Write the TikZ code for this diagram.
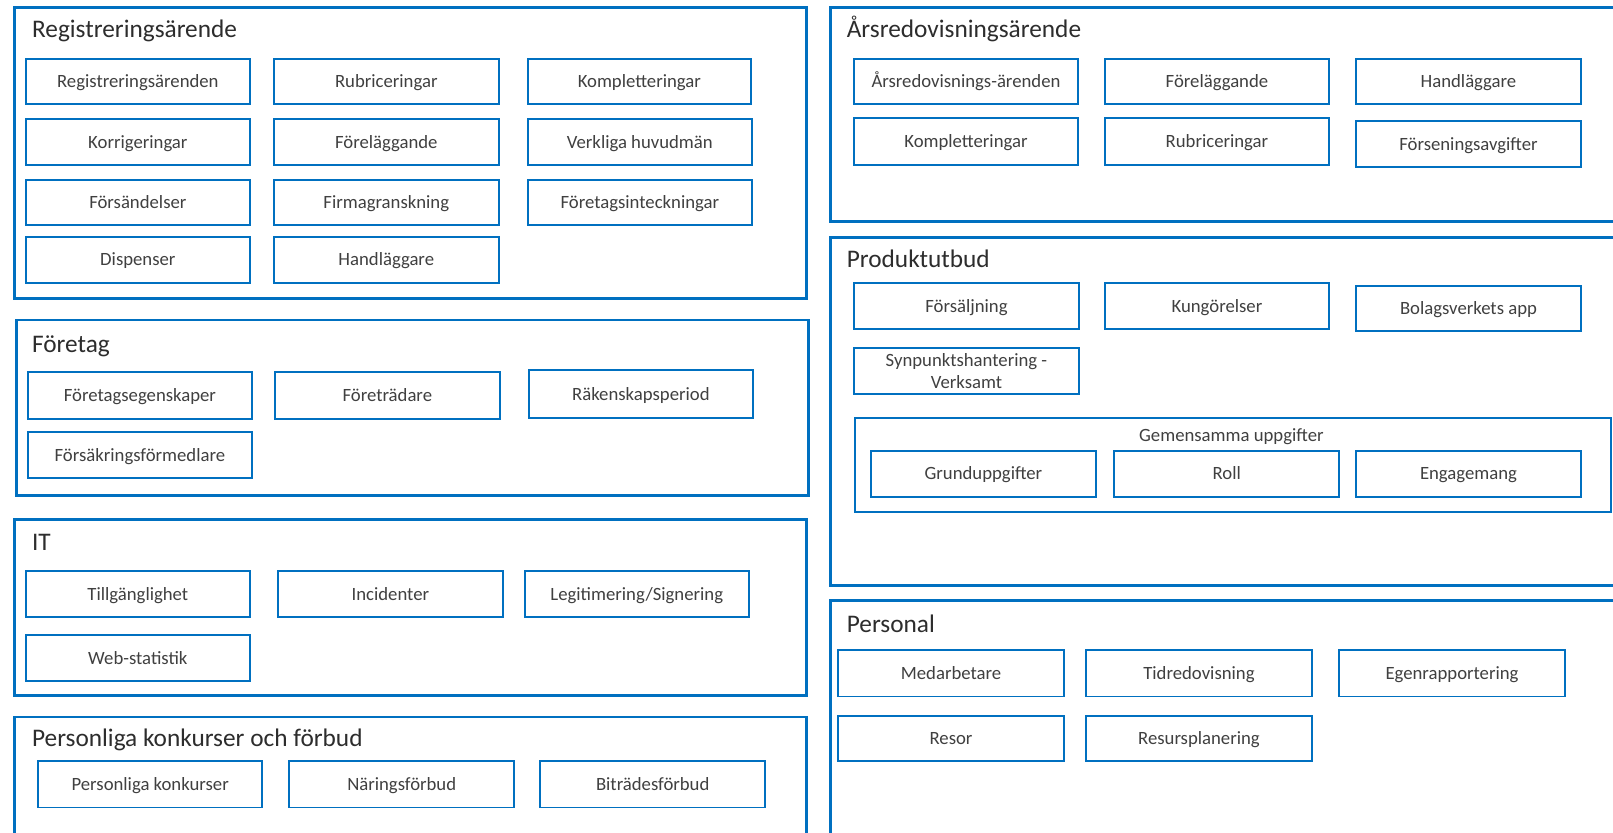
\documentclass[tikz,border=0pt]{standalone}
\usepackage{fontspec}
\setmainfont{Carlito}
\definecolor{bblue}{RGB}{0,112,192}
\definecolor{btext}{RGB}{64,64,64}
\definecolor{ttext}{RGB}{45,45,45}
\tikzset{
  pnl/.style={draw=bblue, line width=2.7pt, inner sep=0pt, outer sep=0pt, rectangle},
  itmbase/.style={draw=bblue, line width=1.8pt, inner sep=0pt, outer sep=0pt, rectangle, align=center,
    text=btext, font=\fontsize{18.2}{21}\selectfont},
  itm/.style={itmbase, text height=14pt, text depth=2pt},
  grp/.style={draw=bblue, line width=1.8pt, inner sep=0pt, outer sep=0pt, rectangle},
  ttl/.style={anchor=base west, inner sep=0pt, text=ttext, font=\fontsize{24.6}{28}\selectfont},
  lbl/.style={inner sep=0pt, anchor=base, text=btext, font=\fontsize{18.2}{21}\selectfont}
}
\newcommand\itm[6]{\node[itm, minimum width={(#4-#2)*1pt}, minimum height={(#5-#3)*1pt}]
  (#1) at ({(#2+#4)/2},{(#3+#5)/2}) {#6};}
\newcommand\pnl[5]{\node[pnl, minimum width={(#4-#2)*1pt}, minimum height={(#5-#3)*1pt}]
  (#1) at ({(#2+#4)/2},{(#3+#5)/2}) {};}
\begin{document}
\begin{tikzpicture}[x=1pt,y=-1pt]
\useasboundingbox (0,0) rectangle (1568,809);
\clip (0,0) rectangle (1568,809);
\fill[white] (0,0) rectangle (1568,809);

% Registreringsärende
\pnl{p1}{14}{7}{784}{290}
\node[ttl] (t1) at (31,36) {Registreringsärende};
\itm{a1}{25}{57}{243}{101}{Registreringsärenden}
\itm{a2}{266}{57}{485}{101}{Rubriceringar}
\itm{a3}{513}{57}{730}{101}{Kompletteringar}
\itm{a4}{25}{116}{243}{160}{Korrigeringar}
\itm{a5}{266}{116}{485}{160}{Föreläggande}
\itm{a6}{513}{116}{731}{160}{Verkliga huvudmän}
\itm{a7}{25}{175}{243}{219}{Försändelser}
\itm{a8}{266}{175}{485}{219}{Firmagranskning}
\itm{a9}{513}{175}{731}{219}{Företagsinteckningar}
\itm{a10}{25}{230}{243}{275}{Dispenser}
\itm{a11}{266}{230}{485}{275}{Handläggare}

% Företag
\pnl{p2}{16}{311}{786}{482}
\node[ttl] (t2) at (31,343) {Företag};
\itm{b1}{27}{362}{245}{407}{Företagsegenskaper}
\itm{b2}{267}{362}{486}{407}{Företrädare}
\itm{b3}{514}{360}{732}{406}{Räkenskapsperiod}
\itm{b4}{27}{420}{245}{465}{Försäkringsförmedlare}

% IT
\pnl{p3}{14}{505}{784}{676}
\node[ttl] (t3) at (31,535) {IT};
\itm{c1}{25}{555}{243}{600}{Tillgänglighet}
\itm{c2}{270}{555}{489}{600}{Incidenter}
\itm{c3}{510}{555}{728}{600}{Legitimering/Signering}
\itm{c4}{25}{617}{243}{662}{Web-statistik}

% Personliga konkurser och förbud
\pnl{p4}{14}{697}{784}{830}
\node[ttl] (t4) at (31,726) {Personliga konkurser och förbud};
\itm{d1}{37}{740}{255}{785}{Personliga konkurser}
\itm{d2}{281}{740}{500}{785}{Näringsförbud}
\itm{d3}{525}{740}{744}{785}{Biträdesförbud}

% Årsredovisningsärende
\pnl{p5}{807}{7}{1580}{215}
\node[ttl] (t5) at (823,36) {Årsredovisningsärende};
\itm{e1}{830}{57}{1048}{101}{Årsredovisnings-ärenden}
\itm{e2}{1074}{57}{1292}{101}{Föreläggande}
\itm{e3}{1318}{57}{1537}{101}{Handläggare}
\itm{e4}{830}{115}{1048}{160}{Kompletteringar}
\itm{e5}{1074}{115}{1292}{160}{Rubriceringar}
\itm{e6}{1318}{118}{1537}{162}{Förseningsavgifter}

% Produktutbud
\pnl{p6}{807}{231}{1580}{569}
\node[ttl] (t6) at (823,260) {Produktutbud};
\itm{f1}{830}{275}{1049}{320}{Försäljning}
\itm{f2}{1074}{275}{1292}{320}{Kungörelser}
\itm{f3}{1318}{278}{1537}{322}{Bolagsverkets app}
\node[itmbase, minimum width=219pt, minimum height=45pt] (f4) at (939.5,360.5)
  {Synpunktshantering -\\Verksamt};
\node[grp, minimum width=735pt, minimum height=92pt] (g) at (1198.5,452) {};
\node[lbl] (gl) at (1197,429) {Gemensamma uppgifter};
\itm{g1}{847}{438}{1065}{483}{Grunduppgifter}
\itm{g2}{1083}{438}{1302}{483}{Roll}
\itm{g3}{1318}{438}{1537}{483}{Engagemang}

% Personal
\pnl{p7}{807}{584}{1580}{830}
\node[ttl] (t7) at (823,615) {Personal};
\itm{h1}{815}{632}{1034}{677}{Medarbetare}
\itm{h2}{1056}{632}{1275}{677}{Tidredovisning}
\itm{h3}{1302}{632}{1521}{677}{Egenrapportering}
\itm{h4}{815}{696}{1034}{740}{Resor}
\itm{h5}{1056}{696}{1275}{740}{Resursplanering}
\end{tikzpicture}
\end{document}
